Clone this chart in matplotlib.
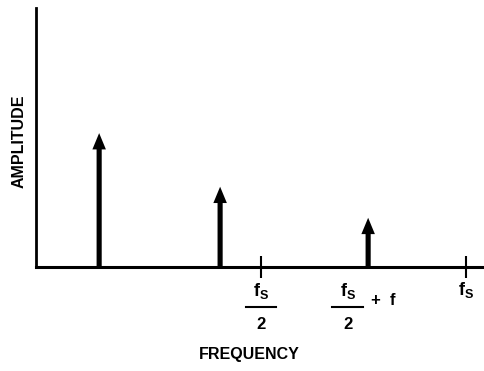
import matplotlib
matplotlib.use("Agg")
import matplotlib.pyplot as plt

# ---- data ----
freqs = [0.105, 0.40, 0.761]          # spectral line positions (fs = 1)
amps = [0.517, 0.31, 0.19]            # amplitudes (axis top = 1)
tick_pos = [0.5, 1.0]                 # fs/2 and fs
frac_pos = [0.5, 0.711]               # positions of the "fs/2" fractions
fs_label = "$\\mathbf{f_S}$"
plus_label = "+  f"
xlabel = "FREQUENCY"
ylabel = "AMPLITUDE"

fam = "Liberation Sans"
plt.rcParams["font.family"] = [fam, "DejaVu Sans"]
plt.rcParams["mathtext.fontset"] = "custom"
plt.rcParams["mathtext.bf"] = fam + ":bold"
plt.rcParams["mathtext.rm"] = fam
plt.rcParams["mathtext.it"] = fam + ":bold"

W, H = 485, 371
fig = plt.figure(figsize=(W / 100, H / 100), dpi=100)
ax = fig.add_axes([36 / W, (H - 267) / H, (W - 36) / W, 259 / H])
ax.set_xlim(-0.049, 1.046)
ax.set_ylim(0, 1)

for s in ["top", "right"]:
    ax.spines[s].set_visible(False)
ax.spines["left"].set_linewidth(2.0)
ax.spines["bottom"].set_linewidth(2.2)
ax.set_yticks([])

for x, a in zip(freqs, amps):
    ax.arrow(x, 0, 0, a, width=0.0125, head_width=0.033, head_length=0.063,
             length_includes_head=True, color="black", lw=0)

ax.set_xticks(tick_pos)
ax.set_xticklabels([])
ax.tick_params(axis="x", direction="inout", length=16, width=1.5, color="black")

tr = ax.get_xaxis_transform()
ax.text(1.0, -0.09, fs_label, transform=tr, ha="center", va="center",
        fontsize=13, fontweight="bold")
for x in frac_pos:
    ax.text(x, -0.092, fs_label, transform=tr, ha="center", va="center",
            fontsize=13, fontweight="bold")
    ax.plot([x - 0.037, x + 0.037], [-0.156, -0.156], color="black", lw=1.5,
            transform=tr, clip_on=False)
    ax.text(x, -0.222, "2", transform=tr, ha="center", va="center",
            fontsize=12, fontweight="bold")
ax.text(frac_pos[1] + 0.056, -0.128, plus_label, transform=tr,
        ha="left", va="center", fontsize=12, fontweight="bold")

fig.text(249 / W, 1 - 354 / H, xlabel, ha="center", va="center",
         fontsize=11.5, fontweight="bold")
fig.text(19 / W, 1 - 141 / H, ylabel, ha="center", va="center",
         fontsize=11.5, fontweight="bold", rotation=90)

fig.savefig("out.png", dpi=100, facecolor="white")
